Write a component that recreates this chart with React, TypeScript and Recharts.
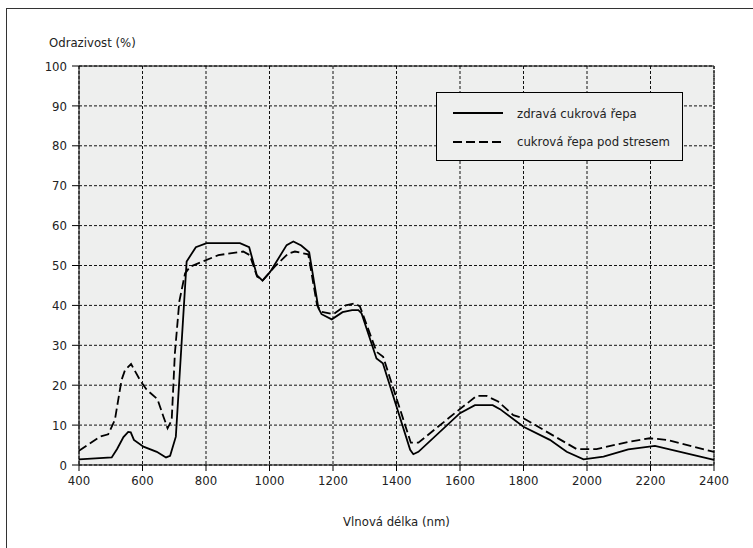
import React from 'react';
import { LineChart, Line, XAxis, YAxis, CartesianGrid, ReferenceLine } from 'recharts';

// zdravá cukrová řepa
const healthyNm = [400, 503, 520, 540, 555, 563, 573, 603, 645, 674, 687, 705, 739, 768, 802, 907, 936, 960, 978, 1002, 1054, 1075, 1100, 1125, 1154, 1164, 1196, 1230, 1260, 1280, 1290, 1337, 1357, 1443, 1453, 1469, 1600, 1647, 1703, 1726, 1800, 1883, 1936, 1989, 2052, 2130, 2214, 2400];
const healthyVal = [1.4, 1.9, 4, 7, 8.3, 8.2, 6.3, 4.6, 3.3, 1.9, 2.3, 7.1, 51, 54.6, 55.6, 55.6, 54.6, 47.6, 46.2, 48.4, 55.1, 56, 55, 53.3, 39.3, 37.8, 36.5, 38.3, 38.8, 38.8, 38, 26.7, 25.5, 3.8, 2.7, 3.3, 13, 15, 15, 14, 9.6, 6.3, 3.3, 1.4, 2.1, 3.9, 4.8, 1.3];

// cukrová řepa pod stresem
const stressNm = [400, 466, 492, 513, 534, 545, 564, 592, 612, 624, 647, 666, 679, 692, 702, 716, 734, 750, 839, 917, 938, 961, 980, 1020, 1059, 1080, 1122, 1150, 1164, 1201, 1240, 1269, 1285, 1337, 1358, 1445, 1469, 1590, 1652, 1684, 1720, 1768, 1800, 1967, 2030, 2130, 2198, 2251, 2400];
const stressVal = [3.6, 7.1, 7.7, 11.3, 21.3, 23.8, 25.3, 21.3, 19, 18.1, 16.5, 12.1, 9.2, 11.3, 28, 41, 48, 49.7, 52.6, 53.5, 52.6, 47.2, 46.4, 50, 53, 53.5, 52.8, 40, 38.4, 37.8, 40, 40.5, 39.7, 28.4, 27.1, 5.6, 5.6, 13.4, 17.3, 17.3, 15.9, 12.5, 11.7, 4, 4, 5.8, 6.7, 6.3, 3.3];

const xTicks = [400, 600, 800, 1000, 1200, 1400, 1600, 1800, 2000, 2200, 2400];
const yTicks = [0, 10, 20, 30, 40, 50, 60, 70, 80, 90, 100];
const seriesNames = ['zdravá cukrová řepa', 'cukrová řepa pod stresem'];

const healthy = healthyNm.map((nm, i) => ({ nm, v: healthyVal[i] }));
const stress = stressNm.map((nm, i) => ({ nm, v: stressVal[i] }));

const FONT = '"Liberation Sans Narrow", "DejaVu Sans Condensed", "Liberation Sans", sans-serif';
const TEXT = '#222';
const FS = 13;

export default function App() {
    return (
        <div style={{ position: 'absolute', left: 0, top: 0, width: 753, height: 548, background: '#fff', fontFamily: FONT, overflow: 'hidden' }}>
            <div style={{ position: 'absolute', left: 6, top: 8, width: 760, height: 560, borderTop: '1.5px solid #333', borderLeft: '1.5px solid #333' }} />
            <div style={{ position: 'absolute', left: 49, top: 35, fontSize: FS, color: TEXT }}>Odrazivost (%)</div>

            <LineChart width={753} height={548} margin={{ top: 66, right: 39, left: 0, bottom: 0 }} style={{ position: 'absolute', left: 0, top: 0 }}>
                <CartesianGrid fill="#eeefee" stroke="#111" strokeDasharray="3 2" horizontalValues={yTicks} verticalValues={xTicks} />
                <XAxis
                    dataKey="nm"
                    type="number"
                    domain={[400, 2400]}
                    ticks={xTicks}
                    height={83}
                    allowDuplicatedCategory={false}
                    stroke="#000"
                    tickSize={6}
                    tickMargin={5}
                    tick={{ fill: TEXT, fontSize: FS, fontFamily: FONT }}
                    label={{ value: 'Vlnová délka (nm)', position: 'insideBottom', offset: 22, fill: TEXT, fontSize: FS, fontFamily: FONT }}
                />
                <YAxis
                    dataKey="v"
                    type="number"
                    domain={[0, 100]}
                    ticks={yTicks}
                    width={79}
                    stroke="#000"
                    tickSize={7}
                    tickMargin={5}
                    tick={{ fill: TEXT, fontSize: FS, fontFamily: FONT }}
                />
                <ReferenceLine y={100} stroke="#000" strokeWidth={1} />
                <ReferenceLine x={2400} stroke="#333" strokeWidth={1.5} strokeDasharray="3 1" />
                <Line data={healthy} dataKey="v" name={seriesNames[0]} type="linear" stroke="#000" strokeWidth={1.8} dot={false} isAnimationActive={false} />
                <Line data={stress} dataKey="v" name={seriesNames[1]} type="linear" stroke="#000" strokeWidth={1.8} strokeDasharray="9 4" dot={false} isAnimationActive={false} />
            </LineChart>

            <div style={{ position: 'absolute', left: 436, top: 92, width: 245, height: 67, border: '1px solid #000', background: '#eeefee', fontSize: FS, color: TEXT }}>
                {seriesNames.map((name, i) => (
                    <div key={name} style={{ position: 'absolute', left: 16, top: 11 + i * 28.5, height: 18, display: 'flex', alignItems: 'center' }}>
                        <svg width={50} height={4} style={{ marginRight: 14 }}>
                            <line x1={0} y1={2} x2={50} y2={2} stroke="#000" strokeWidth={1.8} strokeDasharray={i === 1 ? '9 4' : undefined} />
                        </svg>
                        <span>{name}</span>
                    </div>
                ))}
            </div>
        </div>
    );
}
